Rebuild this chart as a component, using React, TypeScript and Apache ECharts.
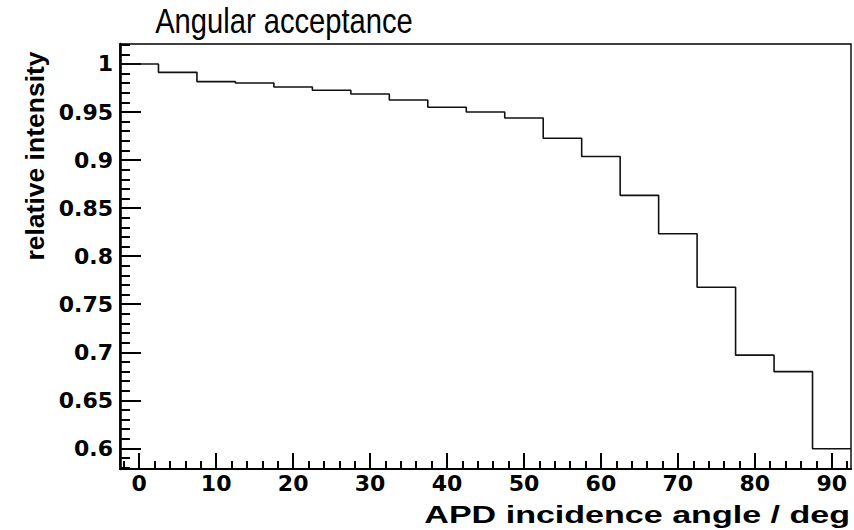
import React, { useEffect, useRef } from "react";
import * as echarts from "echarts";

// Histogram bin centres (deg) and relative intensity per bin
const ANGLES = [0, 5, 10, 15, 20, 25, 30, 35, 40, 45, 50, 55, 60, 65, 70, 75, 80, 85, 90];
const INTENSITY = [
  1.0, 0.9913, 0.9816, 0.9802, 0.976, 0.9726, 0.9688, 0.9625, 0.955, 0.95,
  0.9438, 0.9227, 0.9037, 0.8633, 0.8234, 0.7676, 0.697, 0.6798, 0.5996,
];
const BIN_WIDTH = 5;

const X_TICKS = [0, 10, 20, 30, 40, 50, 60, 70, 80, 90];
const Y_TICKS = [0.6, 0.65, 0.7, 0.75, 0.8, 0.85, 0.9, 0.95, 1];
const X_MINOR: number[] = [];
for (let k = -2; k <= 92; k += 2) X_MINOR.push(k);
const Y_MINOR: number[] = [];
for (let k = 58; k <= 102; k += 1) Y_MINOR.push(k / 100);

const X_MIN = -2.5;
const X_MAX = 92.5;
const Y_MIN = 0.5785;
const Y_MAX = 1.0208;

const TITLE = "Angular acceptance";
const X_TITLE = "APD incidence angle / deg";
const Y_TITLE = "relative intensity";

export default function App() {
  const ref = useRef<HTMLDivElement>(null);
  useEffect(() => {
    if (!ref.current) return;
    const chart = echarts.init(ref.current, undefined, { renderer: "svg" });
    const stepData: number[][] = ANGLES.map((c, i) => [c - BIN_WIDTH / 2, INTENSITY[i]]);
    stepData.push([ANGLES[ANGLES.length - 1] + BIN_WIDTH / 2, INTENSITY[INTENSITY.length - 1]]);

    const labelStyle = {
      color: "#000",
      fontFamily: "DejaVu Sans",
      fontWeight: "bold" as const,
      fontSize: 22,
    };

    chart.setOption({
      animation: false,
      backgroundColor: "#fff",
      grid: {
        left: 120,
        top: 44,
        right: 3,
        bottom: 61,
        show: true,
        borderColor: "#000",
        borderWidth: 1.4,
        backgroundColor: "transparent",
      },
      xAxis: [
        {
          type: "value",
          min: X_MIN,
          max: X_MAX,
          position: "bottom",
          axisLine: { show: true, onZero: false, lineStyle: { color: "#000", width: 1.8 } },
          axisTick: {
            show: true,
            inside: true,
            length: 16,
            customValues: X_TICKS,
            lineStyle: { color: "#000", width: 2 },
          },
          axisLabel: {
            show: true,
            customValues: X_TICKS,
            margin: 3,
            ...labelStyle,
            formatter: (v: number) => String(v),
          },
          splitLine: { show: false },
        },
        {
          type: "value",
          min: X_MIN,
          max: X_MAX,
          position: "bottom",
          axisLine: { show: false, onZero: false },
          axisTick: {
            show: true,
            inside: true,
            length: 8,
            customValues: X_MINOR,
            lineStyle: { color: "#000", width: 2 },
          },
          axisLabel: { show: false },
          splitLine: { show: false },
        },
      ],
      yAxis: [
        {
          type: "value",
          min: Y_MIN,
          max: Y_MAX,
          position: "left",
          axisLine: { show: true, onZero: false, lineStyle: { color: "#000", width: 2.6 } },
          axisTick: {
            show: true,
            inside: true,
            length: 21,
            customValues: Y_TICKS,
            lineStyle: { color: "#000", width: 2 },
          },
          axisLabel: {
            show: true,
            customValues: Y_TICKS,
            margin: 7,
            ...labelStyle,
            formatter: (v: number) => String(+v.toFixed(2)),
          },
          splitLine: { show: false },
        },
        {
          type: "value",
          min: Y_MIN,
          max: Y_MAX,
          position: "left",
          axisLine: { show: false, onZero: false },
          axisTick: {
            show: true,
            inside: true,
            length: 10,
            customValues: Y_MINOR,
            lineStyle: { color: "#000", width: 2 },
          },
          axisLabel: { show: false },
          splitLine: { show: false },
        },
      ],
      series: [
        {
          type: "line",
          xAxisIndex: 0,
          yAxisIndex: 0,
          step: "end",
          data: stepData,
          showSymbol: false,
          symbol: "none",
          lineStyle: { color: "#111", width: 1.6 },
          silent: true,
        },
      ],
      graphic: [
        {
          type: "text",
          x: 284,
          y: 20,
          scaleX: 0.81,
          style: {
            text: TITLE,
            fill: "#000",
            fontFamily: "Liberation Sans",
            fontSize: 36,
            align: "center",
            verticalAlign: "middle",
          },
        },
        {
          type: "text",
          x: 850,
          y: 514,
          scaleX: 1.39,
          style: {
            text: X_TITLE,
            fill: "#000",
            fontFamily: "Liberation Sans",
            fontWeight: "bold",
            fontSize: 24.5,
            align: "right",
            verticalAlign: "middle",
          },
        },
        {
          type: "text",
          x: 35,
          y: 156,
          rotation: Math.PI / 2,
          style: {
            text: Y_TITLE,
            fill: "#000",
            fontFamily: "Liberation Sans",
            fontWeight: "bold",
            fontSize: 26.5,
            align: "center",
            verticalAlign: "middle",
          },
        },
      ],
    });
    return () => chart.dispose();
  }, []);
  return (
    <div
      ref={ref}
      style={{ position: "absolute", left: 0, top: 0, width: 854, height: 530 }}
    />
  );
}
